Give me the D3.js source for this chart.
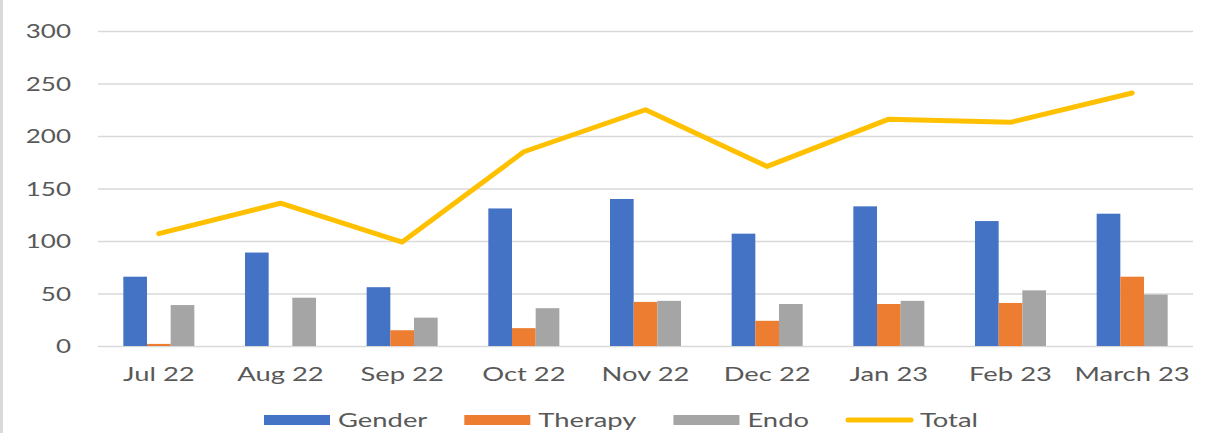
<!DOCTYPE html>
<html>
<head>
<meta charset="utf-8">
<script src="https://cdn.jsdelivr.net/npm/d3@7"></script>
<style>
  body { margin: 0; background: #fff; }
  text { font-family: Lato, "Open Sans", sans-serif; fill: #595959; }
</style>
</head>
<body>
<svg id="chart" width="1223" height="433"></svg>
<script>
// data
var months = ["Jul 22", "Aug 22", "Sep 22", "Oct 22", "Nov 22", "Dec 22", "Jan 23", "Feb 23", "March 23"];
var gender = [66, 89, 56, 131, 140, 107, 133, 119, 126];
var therapy = [2, 0, 15, 17, 42, 24, 40, 41, 66];
var endo = [39, 46, 27, 36, 43, 40, 43, 53, 49];
var total = [107, 136, 99, 185, 225, 171, 216, 213, 241];
var yTicks = [0, 50, 100, 150, 200, 250, 300];

var seriesNames = ["Gender", "Therapy", "Endo"];
var seriesColors = ["#4472C4", "#ED7D31", "#A5A5A5"];
var lineColor = "#FFC000";

var SX = 1.37; // text in the picture is stretched sideways

var svg = d3.select("svg#chart"),
  width = +svg.attr("width"),
  height = +svg.attr("height");

var margin = { left: 98, right: 30, top: 31, bottom: 87 };

// gray strip at the left edge
svg.append("rect")
  .attr("x", 0).attr("y", 0)
  .attr("width", 3).attr("height", height)
  .attr("fill", "#d9d9d9");

var x0 = d3.scaleBand()
  .domain(months)
  .range([margin.left, width - margin.right])
  .paddingInner(0).paddingOuter(0);

var x1 = d3.scaleBand()
  .domain(seriesNames)
  .range([0, x0.bandwidth()])
  .paddingInner(0).paddingOuter(1.07);

var y = d3.scaleLinear()
  .domain([0, 300])
  .range([height - margin.bottom, margin.top]);

// grid + y labels
var yAxis = svg.append("g")
  .attr("transform", "translate(" + margin.left + ",0)")
  .call(d3.axisLeft(y).tickValues(yTicks).tickSize(-(width - margin.left - margin.right)).tickPadding(0));
yAxis.select(".domain").remove();
yAxis.selectAll(".tick line").attr("stroke", "#d9d9d9").attr("stroke-width", 1.6);
yAxis.selectAll(".tick text")
  .attr("x", -27 / SX)
  .attr("transform", "scale(" + SX + ",1)")
  .style("font-size", "19px")
  .attr("dy", "0.36em");

// x labels
var xAxis = svg.append("g")
  .attr("transform", "translate(0," + (height - margin.bottom) + ")")
  .call(d3.axisBottom(x0).tickSize(0).tickPadding(0));
xAxis.select(".domain").remove();
xAxis.selectAll(".tick text")
  .attr("y", 35)
  .attr("dy", 0)
  .attr("transform", "scale(" + SX + ",1)")
  .style("font-size", "20px");

// bars
var rows = months.map(function (m, i) {
  return { month: m, values: [gender[i], therapy[i], endo[i]] };
});

svg.append("g")
  .selectAll("g")
  .data(rows)
  .join("g")
  .attr("transform", function (d) { return "translate(" + x0(d.month) + ",0)"; })
  .selectAll("rect")
  .data(function (d) {
    return d.values.map(function (v, j) { return { key: seriesNames[j], value: v, color: seriesColors[j] }; });
  })
  .join("rect")
  .attr("x", function (d) { return x1(d.key); })
  .attr("width", x1.bandwidth())
  .attr("y", function (d) { return y(d.value); })
  .attr("height", function (d) { return y(0) - y(d.value); })
  .attr("fill", function (d) { return d.color; });

// total line
var line = d3.line()
  .x(function (d, i) { return x0(months[i]) + x0.bandwidth() / 2; })
  .y(function (d) { return y(d); });

svg.append("path")
  .datum(total)
  .attr("d", line)
  .attr("fill", "none")
  .attr("stroke", lineColor)
  .attr("stroke-width", 5)
  .attr("stroke-linejoin", "round")
  .attr("stroke-linecap", "round");

// legend
var legendItems = [
  { name: "Gender", color: seriesColors[0], type: "rect" },
  { name: "Therapy", color: seriesColors[1], type: "rect" },
  { name: "Endo", color: seriesColors[2], type: "rect" },
  { name: "Total", color: lineColor, type: "line" }
];

var legend = svg.append("g");
var legendY = 420;
var swatchW = 66, swatchGap = 8, itemGap = 37;

var items = legend.selectAll("g")
  .data(legendItems)
  .join("g")
  .attr("class", "legendEntry");

items.each(function (d) {
  var g = d3.select(this);
  if (d.type === "rect") {
    g.append("rect")
      .attr("x", 0).attr("y", legendY - 5)
      .attr("width", swatchW).attr("height", 10)
      .attr("fill", d.color);
  } else {
    g.append("line")
      .attr("x1", 2).attr("x2", swatchW - 1)
      .attr("y1", legendY).attr("y2", legendY)
      .attr("stroke", d.color)
      .attr("stroke-width", 5)
      .attr("stroke-linecap", "round");
  }
  g.append("text")
    .attr("x", (swatchW + swatchGap) / SX)
    .attr("y", legendY + 7)
    .attr("transform", "scale(" + SX + ",1)")
    .style("font-size", "20px")
    .text(d.name);
});

var offsets = [], cur = 0;
items.each(function (d) {
  var w = d3.select(this).select("text").node().getComputedTextLength() * SX;
  offsets.push(cur);
  cur += swatchW + swatchGap + w + itemGap;
});
var legendWidth = cur - itemGap;
var legendStart = 621 - legendWidth / 2;
items.attr("transform", function (d, i) { return "translate(" + (legendStart + offsets[i]) + ",0)"; });
</script>
</body>
</html>
